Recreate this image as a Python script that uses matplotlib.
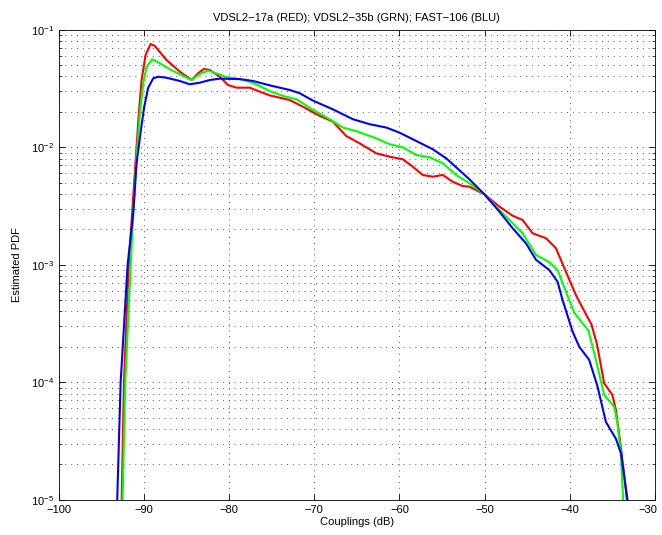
import numpy as np
import matplotlib
matplotlib.use("Agg")
import matplotlib.pyplot as plt
import matplotlib.transforms as mtransforms
from matplotlib.ticker import LogLocator, NullFormatter, NullLocator

plt.rcParams['font.family'] = ['Liberation Sans', 'DejaVu Sans']
plt.rcParams['font.size'] = 8

#valores (dB, PDF estimada)
x_red = [-93.0, -92.61, -92.34, -91.78, -91.64, -91.25, -90.86, -90.59, -90.27, -89.80,
         -89.21, -88.71, -87.34, -85.78, -84.41, -83.63, -82.97, -82.26, -81.09, -80.12,
         -79.13, -77.57, -76.40, -75.23, -74.06, -72.89, -71.32, -69.37, -67.81, -66.24,
         -64.68, -62.72, -61.16, -59.60, -58.43, -57.26, -56.08, -54.91, -53.74, -52.57,
         -51.78, -50.02, -48.26, -46.70, -45.53, -44.36, -42.79, -41.62, -40.45, -39.27,
         -38.50, -37.45, -36.80, -35.96, -35.00, -34.58, -34.00, -33.55, -33.30, -33.1]
y_red = [1e-6, 1e-5, 1e-4, 1e-3, 0.00142, 0.00379, 0.0101, 0.0195, 0.0373, 0.061,
         0.0756, 0.0726, 0.0552, 0.0439, 0.0373, 0.0426, 0.0463, 0.0454, 0.0398, 0.0338,
         0.0321, 0.0321, 0.0297, 0.0276, 0.0264, 0.0252, 0.0221, 0.0185, 0.0165, 0.01245,
         0.0108, 0.00887, 0.0083, 0.00789, 0.00683, 0.0058, 0.00561, 0.0058, 0.00508, 0.00467,
         0.00461, 0.00397, 0.00312, 0.00261, 0.0024, 0.00185, 0.00168, 0.00138, 0.00087, 0.00055,
         0.00043, 0.00031, 0.00021, 9.8e-5, 7.8e-5, 5.8e-5, 2.8e-5, 1.5e-5, 1e-5, 1e-6]

x_grn = [-93.0, -92.50, -92.19, -91.55, -91.25, -90.86, -90.47, -90.08, -89.68, -89.03,
         -88.12, -86.95, -85.58, -84.41, -83.43, -82.46, -81.48, -80.30, -78.75, -77.57,
         -76.40, -75.23, -73.67, -72.10, -70.15, -68.19, -66.64, -65.07, -62.72, -61.16,
         -59.60, -58.03, -56.47, -54.91, -53.34, -51.78, -50.02, -48.26, -46.70, -45.53,
         -43.96, -42.40, -41.43, -40.45, -39.47, -37.81, -36.93, -35.96, -34.79, -34.40,
         -34.00, -33.73, -33.6]
y_grn = [1e-6, 1e-5, 1e-4, 1e-3, 0.00274, 0.0083, 0.0195, 0.035, 0.0484, 0.056,
         0.0518, 0.046, 0.0411, 0.0373, 0.042, 0.0448, 0.0425, 0.0394, 0.0379, 0.0361,
         0.0332, 0.030, 0.0273, 0.0256, 0.0208, 0.0173, 0.0147, 0.0137, 0.0119, 0.0106,
         0.00998, 0.00859, 0.00821, 0.0073, 0.0058, 0.00493, 0.00397, 0.00292, 0.00225, 0.00185,
         0.00121, 0.00105, 0.0009, 0.000589, 0.00039, 0.000275, 0.000155, 7.8e-5, 6.2e-5, 4.5e-5,
         2.5e-5, 1e-5, 1e-6]

x_blu = [-93.5, -93.13, -92.73, -91.91, -91.25, -90.86, -90.35, -89.96, -89.50, -88.91,
         -88.32, -87.34, -85.78, -84.61, -83.43, -82.26, -81.09, -78.75, -77.19, -75.23,
         -72.89, -71.71, -70.15, -67.81, -65.46, -63.51, -61.55, -59.99, -58.03, -56.08,
         -54.51, -53.34, -51.78, -50.02, -48.26, -46.70, -45.14, -43.96, -42.40, -41.43,
         -40.84, -39.67, -38.88, -37.72, -36.74, -35.76, -34.58, -34.00, -33.22, -33.0]
y_blu = [1e-6, 1e-5, 1e-4, 1e-3, 0.00274, 0.0073, 0.014, 0.0221, 0.032, 0.0385,
         0.0398, 0.039, 0.0366, 0.0343, 0.0354, 0.0373, 0.0383, 0.038, 0.0366, 0.0336,
         0.0307, 0.0288, 0.0249, 0.021, 0.0173, 0.0157, 0.0147, 0.0133, 0.0113, 0.0096,
         0.00805, 0.00675, 0.00533, 0.00397, 0.00283, 0.00204, 0.00152, 0.0011, 0.0009, 0.000716,
         0.0005, 0.00027, 0.0002, 0.000155, 9.2e-5, 4.6e-5, 3.3e-5, 2.5e-5, 1e-5, 1e-6]

fig = plt.figure(figsize=(6.62, 5.35), dpi=100)
ax = fig.add_axes([0.0887, 0.066, 0.9006, 0.8785])

ax.semilogy(x_red, y_red, color=(1, 0, 0), linewidth=1.5)
ax.semilogy(x_grn, y_grn, color=(0, 1, 0), linewidth=1.5)
ax.semilogy(x_blu, y_blu, color=(0, 0, 1), linewidth=1.5)

ax.set_xlim(-100, -30)
ax.set_ylim(1e-5, 1e-1)
ax.set_xticks(np.arange(-100, -29, 10))
ax.xaxis.set_minor_locator(NullLocator())
ax.yaxis.set_major_locator(LogLocator(base=10, numticks=10))
ax.yaxis.set_minor_locator(LogLocator(base=10, subs=np.arange(2, 10), numticks=20))
ax.yaxis.set_minor_formatter(NullFormatter())

grid_style = dict(color='0.35', linestyle=(0, (1, 5)), linewidth=0.7)
ax.grid(True, which='major', axis='both', **grid_style)
ax.grid(True, which='minor', axis='y', **grid_style)

ax.tick_params(which='both', direction='in', top=True, right=True, labelsize=8)
ax.tick_params(which='major', length=4, width=0.6)
ax.tick_params(which='minor', length=2.2, width=0.5)
for s in ax.spines.values():
    s.set_linewidth(0.6)

#o rótulo -30 fica encostado na borda direita, puxa um pouco pra esquerda
fig.canvas.draw()
ultimo = ax.get_xticklabels()[-1]
ultimo.set_transform(ultimo.get_transform() + mtransforms.ScaledTranslation(-5 / 72, 0, fig.dpi_scale_trans))
ultimo.set_ha('center')

ax.set_title("VDSL2\u221217a (RED); VDSL2\u221235b (GRN); FAST\u2212106 (BLU)", fontsize=8, pad=6)
ax.set_xlabel("Couplings (dB)", fontsize=8, labelpad=2)
ax.set_ylabel("Estimated PDF", fontsize=8, labelpad=6)

fig.savefig("out.png", dpi=100)
